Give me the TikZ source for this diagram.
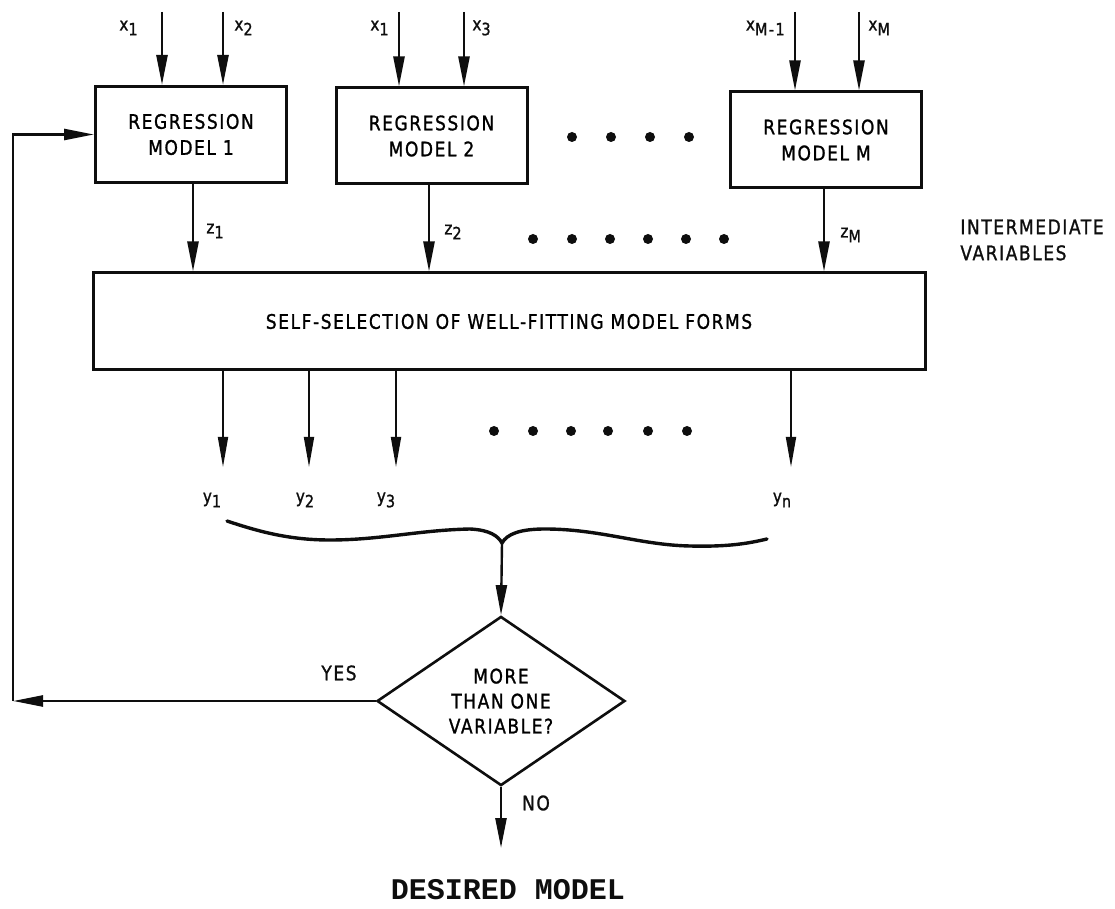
\documentclass[tikz,border=0pt]{standalone}
\usepackage{fontspec}
\usepackage{tikz}
\usetikzlibrary{arrows.meta,positioning,calc,shapes.geometric}
\newfontfamily\lettering[FakeStretch=0.85,LetterSpace=8,FakeBold=1.2]{DejaVu Sans}
\newfontfamily\typed{Liberation Mono}
\definecolor{ink}{RGB}{14,14,14}
\newcommand{\idx}[1]{\raisebox{-0.5ex}{\fontsize{8.5}{8.5}\selectfont#1}}
\tikzset{
  flow/.style={line width=1.2pt,ink,-{Triangle[length=15pt,width=5.5pt]}},
  thinflow/.style={line width=0.9pt,ink,-{Triangle[length=15pt,width=5pt]}},
  regbox/.style={draw=ink,line width=1.5pt,minimum width=95.5pt,minimum height=48pt,
    inner sep=0pt,align=center,font=\lettering\fontsize{10}{13}\selectfont},
  selbox/.style={draw=ink,line width=1.5pt,minimum width=416pt,minimum height=48.5pt,
    inner sep=0pt,font=\lettering\fontsize{10}{13}\selectfont},
  decision/.style={draw=ink,line width=1.3pt,shape=diamond,minimum width=124pt,
    minimum height=76.5pt,inner sep=0pt,align=center,font=\lettering\fontsize{10}{12.5}\selectfont},
  lbl/.style={text=ink,inner sep=1pt,font=\lettering\fontsize{10}{13}\selectfont},
  sublbl/.style={text=ink,inner sep=1pt,font=\lettering\fontsize{9}{10}\selectfont},
  blob/.style={circle,fill=ink,inner sep=0pt,minimum size=5pt},
  brace/.style={line width=1.7pt,ink,line cap=round}
}
\begin{document}
\begin{tikzpicture}[x=0.5pt,y=-0.5pt]
  \useasboundingbox (0,0) rectangle (1115,909);
  \node[regbox] (reg1) at (191,134.5) {REGRESSION\\MODEL 1};
  \node[regbox] (reg2) at (431.5,136) {REGRESSION\\MODEL 2};
  \node[regbox] (regM) at (826,140) {REGRESSION\\MODEL M};
  \node[selbox] (sel) at (509,321.5) {SELF-SELECTION OF WELL-FITTING MODEL FORMS};
  \node[decision] (more) at (501,701) {MORE\\THAN ONE\\VARIABLE?};
  \node[font=\typed\bfseries\fontsize{15}{18}\selectfont,text=ink] (desired) at (508,890) {DESIRED MODEL};
  \foreach \n/\x/\b in {a/162/reg1,b/223/reg1,c/399/reg2,d/464/reg2,e/795/regM,f/859/regM} {
    \coordinate (in\n) at (\x,12);
    \draw[flow] (in\n) -- (in\n |- \b.north);
  }
  \node[sublbl,anchor=east] (xa) at (140,28) {x\idx{1}};
  \node[sublbl,anchor=west] (xb) at (232,28) {x\idx{2}};
  \node[sublbl,anchor=east] (xc) at (391,28) {x\idx{1}};
  \node[sublbl,anchor=west] (xd) at (470,28) {x\idx{3}};
  \node[sublbl,anchor=east] (xe) at (787,28) {x\idx{M-1}};
  \node[sublbl,anchor=west] (xf) at (866,28) {x\idx{M}};
  \foreach \x in {572,611,650,689} {\node[blob] (da\x) at (\x,137) {};}
  \foreach \n/\x/\b in {1/193/reg1,2/429/reg2,M/824/regM} {
    \coordinate (out\n) at (\x,200);
    \draw[flow] (out\n |- \b.south) -- (out\n |- sel.north);
  }
  \node[sublbl,anchor=west] (z1) at (204,231) {z\idx{1}};
  \node[sublbl,anchor=west] (z2) at (442,232) {z\idx{2}};
  \node[sublbl,anchor=west] (zM) at (838,235) {z\idx{M}};
  \foreach \x in {533,572,610,648,686,724} {\node[blob] (db\x) at (\x,239) {};}
  \node[lbl,anchor=west,align=left] (inter) at (958,240) {INTERMEDIATE\\VARIABLES};
  \foreach \n/\x/\lx in {1/223/212,2/309/305,3/396/386,n/791/782} {
    \coordinate (yt\n) at (\x,467);
    \draw[thinflow] (yt\n |- sel.south) -- (yt\n);
    \node[sublbl] (y\n) at (\lx,500) {y\idx{\n}};
  }
  \foreach \x in {494,533,571,608,648,687} {\node[blob] (dc\x) at (\x,431) {};}
  \coordinate (bracetip) at (502,543);
  \draw[brace] (227,521) .. controls (260,532) and (290,540) .. (330,540)
    .. controls (380,540) and (420,530) .. (470,529)
    .. controls (490,530) and (498,536) .. (bracetip)
    .. controls (507,534) and (520,529) .. (545,529)
    .. controls (600,529) and (640,545) .. (690,546)
    .. controls (730,547) and (750,543) .. (767,539);
  \draw[flow] (bracetip) -- (more.north);
  \coordinate (turn) at (13,701);
  \draw[flow] (more.west) -- (turn);
  \draw[flow] (turn) |- (reg1.west);
  \node[lbl] (yes) at (339,673) {YES};
  \coordinate (goal) at (501,848);
  \draw[flow] (more.south) -- (goal);
  \node[lbl] (no) at (536,803) {NO};
\end{tikzpicture}
\end{document}
